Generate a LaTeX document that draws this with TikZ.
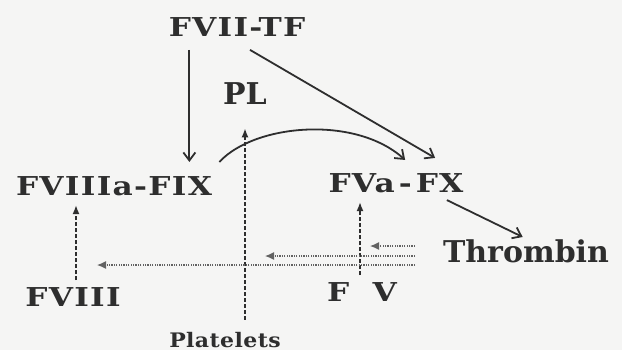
\documentclass[tikz,border=0pt]{standalone}
\usepackage{fontspec}
\setmainfont{DejaVu Serif}
\usepackage[dvipsnames]{xcolor}
\usepackage{tikz}
\usetikzlibrary{arrows.meta}
\usetikzlibrary{calc}
\usetikzlibrary{positioning}

\definecolor{inkGray}{HTML}{2E2E2E}
\definecolor{paperGray}{HTML}{F5F5F4}

\begin{document}
\begin{tikzpicture}[
  x=0.5pt, y=-0.5pt,
  factorNode/.style={font=\fontsize{13}{15}\selectfont\bfseries\addfontfeatures{FakeStretch=1.2,LetterSpace=5}, text=inkGray, inner sep=0pt},
  bigFactor/.style={factorNode, font=\fontsize{15}{17}\selectfont\bfseries},
  smallNode/.style={factorNode, font=\fontsize{10}{12}\selectfont\bfseries\addfontfeatures{FakeStretch=1.1,LetterSpace=2}},
  solidArr/.style={draw=inkGray, line width=0.9pt, -{Straight Barb[length=4pt,width=6pt]}},
  dashArr/.style={draw=inkGray, line width=0.8pt, dash pattern=on 2pt off 1pt, -{Latex[length=4.5pt,width=3.5pt]}},
  dotArr/.style={draw=inkGray!75, line width=0.6pt, dash pattern=on 0.6pt off 0.6pt, -{Latex[length=4.5pt,width=4pt]}},
]

% paper
\fill[paperGray] (0,0) rectangle (622,350);
\useasboundingbox (0,0) rectangle (622,350);

% --- factors ---
\node[factorNode] (fvii) at (237,27) {FVII-TF};
\node[bigFactor] (pl) at (245,94) {PL};
\node[factorNode] (fviiia) at (114,186) {FVIIIa-FIX};
\node[factorNode] (fva) at (396,183) {FVa\kern2pt-\kern2pt FX};
\node[factorNode] (fviii) at (73,297) {FVIII};
\node[factorNode] (fv) at (362,292) {F\hspace{0.9em}V};
\node[bigFactor] (thr) at (526,251) {Thrombin};
\node[smallNode] (plt) at (225,340) {Platelets};

% --- solid arrows ---
\draw[solidArr] ($(fvii.south -| fviiia.north east)+(-23,13)$) -- ($(fviiia.north east)+(-23,-14)$);
\draw[solidArr] ($(fvii.south)+(13,13)$) -- ($(fva.north west)+(107,-15)$);
\draw[solidArr] ($(fviiia.north east)+(7,-14)$)
  .. controls +(35,-38) and +(-50,-45) .. ($(fva.north west)+(77,-13)$);
\draw[solidArr] ($(fva.south east)+(-17,7)$) -- ($(thr.north west)+(80,-2)$);

% --- dashed arrows ---
\draw[dashArr] ($(plt.north -| pl.south)+(0,-12)$) -- ($(pl.south)+(0,23)$);
\draw[dashArr] ($(fviii.north)+(3,-7)$) -- ($(fviii.north |- fviiia.south)+(3,9)$);
\draw[dashArr] ($(fv.north)+(-2,-7)$) -- ($(fv.north |- fva.south)+(-2,9)$);

% --- dotted arrows from the right ---
\foreach \i/\yy/\xl in {1/246/370, 2/256/265, 3/265/97} {
  \coordinate (dotR\i) at (415,\yy);
  \coordinate (dotL\i) at (\xl,\yy);
  \draw[dotArr] (dotR\i) -- (dotL\i);
}

\end{tikzpicture}
\end{document}
